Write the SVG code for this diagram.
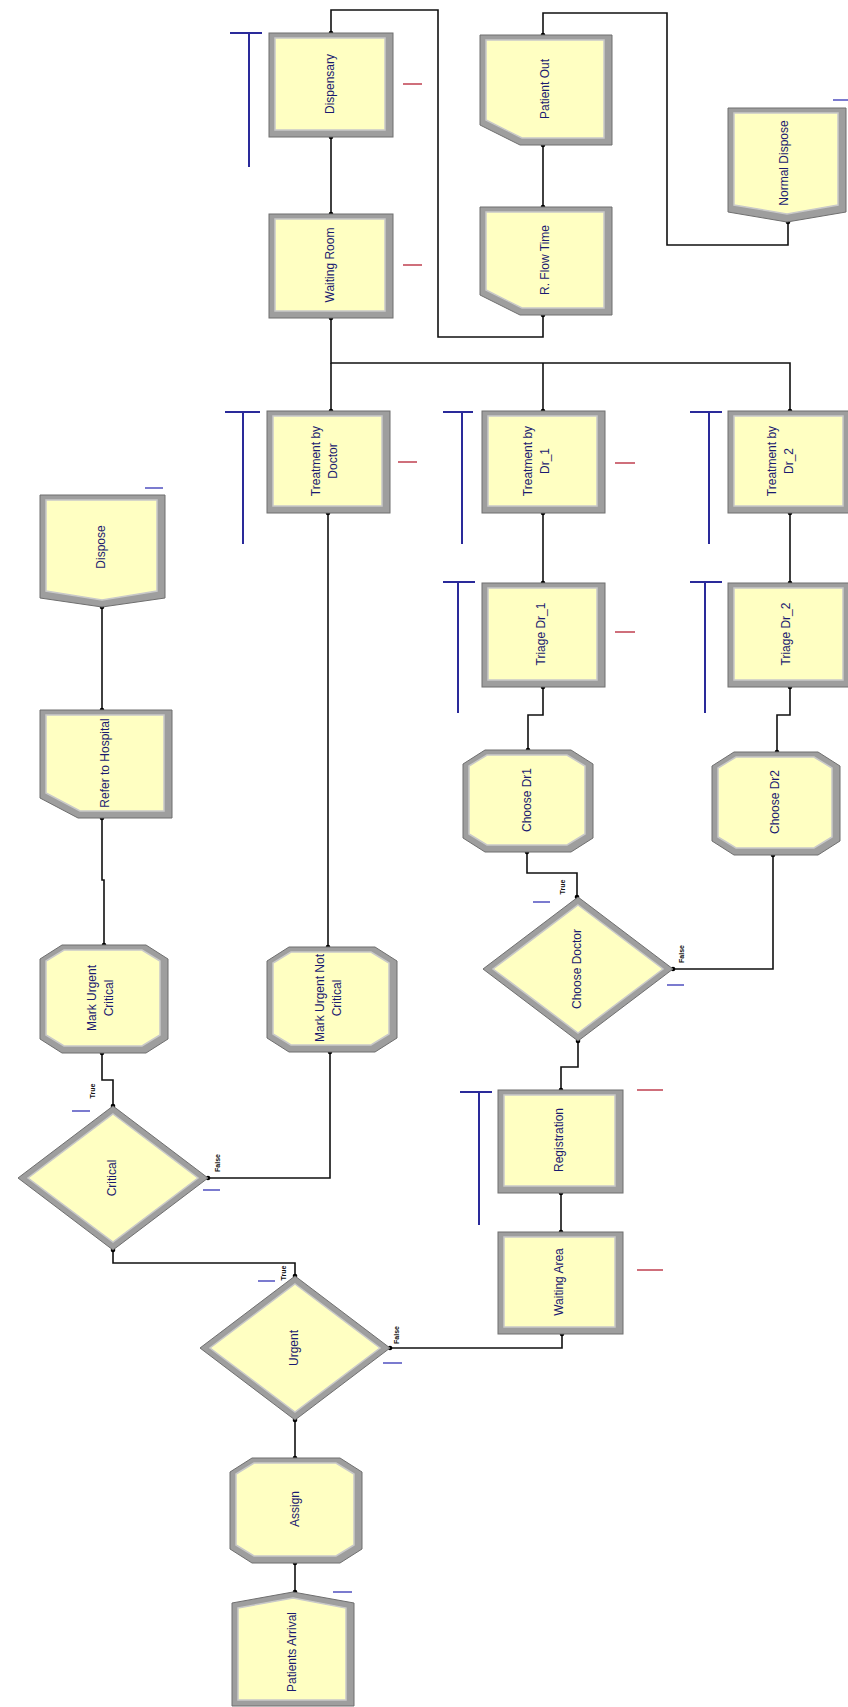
<svg xmlns="http://www.w3.org/2000/svg" width="848" height="1707" viewBox="0 0 848 1707">
<style>
.o{fill:#9e9e9e;stroke:#6f6f6f;stroke-width:1}
.i{fill:#ffffc2;stroke:#c9c9c9;stroke-width:1.5}
.t{font-family:"Liberation Sans",Arial,sans-serif;font-size:12px;fill:#1a1a70;text-anchor:middle;dominant-baseline:central}
.s{font-family:"Liberation Sans",Arial,sans-serif;font-size:7px;font-weight:bold;fill:#111;text-anchor:middle;dominant-baseline:central}
.c{fill:none;stroke:#111;stroke-width:1.6;marker-start:url(#dot);marker-end:url(#dot)}
.e{fill:none;stroke:#111;stroke-width:1.6;marker-end:url(#dot)}
.q{stroke:#2a2a9a;stroke-width:2;fill:none}
.r{stroke:#c04050;stroke-width:1.5}
.b{stroke:#5050c0;stroke-width:1.5}
</style>
<defs>
<marker id="dot" markerUnits="userSpaceOnUse" markerWidth="6" markerHeight="6" refX="3" refY="3"><circle cx="3" cy="3" r="2.3" fill="#000"/></marker>
</defs>
<rect width="848" height="1707" fill="#fff"/>

<g id="connectors">
<path class="c" d="M331,33 V10 H438 V337 H543 V315"/>
<path class="c" d="M543,145 V207"/>
<path class="c" d="M543,35 V13 H667 V245 H788 V222"/>
<path class="c" d="M331,137 V214"/>
<path class="c" d="M331,318 V363 H790 V411"/>
<path class="e" d="M331,363 V411"/>
<path class="e" d="M543,363 V411"/>
<path class="c" d="M543,513 V583"/>
<path class="c" d="M790,513 V583"/>
<path class="c" d="M543,687 V715 H528 V750"/>
<path class="c" d="M790,687 V715 H777 V752"/>
<path class="c" d="M527,852 V873 H577 V897"/>
<path class="c" d="M673,969 H773 V855"/>
<path class="c" d="M578,1041 V1067 H561 V1090"/>
<path class="c" d="M561,1193 V1232"/>
<path class="c" d="M390,1348 H562 V1334"/>
<path class="c" d="M295,1420 V1458"/>
<path class="c" d="M295,1563 V1592"/>
<path class="c" d="M295,1276 V1263 H113 V1250"/>
<path class="c" d="M113,1106 V1080 H102 V1053"/>
<path class="c" d="M208,1178 H330 V1052"/>
<path class="c" d="M328,513 V947"/>
<path class="c" d="M104,945 V880 H102 V818"/>
<path class="c" d="M102,710 V607"/>
</g>

<g id="resources">
<path class="q" d="M230,33 H262 M249,33 V167"/>
<path class="q" d="M225,412 H260 M243,412 V544"/>
<path class="q" d="M443,412 H473 M462,412 V544"/>
<path class="q" d="M690,412 H722 M709,412 V544"/>
<path class="q" d="M443,582 H475 M458,582 V713"/>
<path class="q" d="M690,582 H722 M705,582 V713"/>
<path class="q" d="M460,1092 H492 M479,1092 V1225"/>
<path class="r" d="M403,84 H422 M403,265 H422 M398,462 H417 M615,463 H635 M615,632 H635 M637,1090 H663 M637,1270 H663"/>
<path class="b" d="M833,100 H848 M145,488 H163 M333,1592 H352 M72,1111 H90 M203,1190 H220 M667,985 H684 M533,902 H550 M383,1363 H402 M258,1281 H275"/>
</g>

<g id="decide-labels">
<text class="s" transform="translate(92,1091) rotate(-90)">True</text>
<text class="s" transform="translate(217,1163) rotate(-90)">False</text>
<text class="s" transform="translate(562,887) rotate(-90)">True</text>
<text class="s" transform="translate(681,954) rotate(-90)">False</text>
<text class="s" transform="translate(396,1335) rotate(-90)">False</text>
<text class="s" transform="translate(283,1273) rotate(-90)">True</text>
</g>

<g id="dispensary">
<rect class="o" x="269" y="33" width="124" height="104"/><rect class="i" x="275" y="38" width="110" height="92"/>
<text class="t" transform="translate(330,84) rotate(-90)">Dispensary</text>
</g>
<g id="waiting-room">
<rect class="o" x="269" y="214" width="124" height="104"/><rect class="i" x="275" y="219" width="110" height="92"/>
<text class="t" transform="translate(330,265) rotate(-90)">Waiting Room</text>
</g>
<g id="patient-out">
<polygon class="o" points="480,35 612,35 612,145 520,145 480,125"/><polygon class="i" points="486,40 604,40 604,138 522,138 486,120"/>
<text class="t" transform="translate(545,89) rotate(-90)">Patient Out</text>
</g>
<g id="r-flow-time">
<polygon class="o" points="480,207 612,207 612,315 520,315 480,295"/><polygon class="i" points="486,212 604,212 604,308 522,308 486,290"/>
<text class="t" transform="translate(545,260) rotate(-90)">R. Flow Time</text>
</g>
<g id="normal-dispose">
<polygon class="o" points="728,108 846,108 846,212 787,222 728,212"/><polygon class="i" points="734,113 838,113 838,205 787,214 734,205"/>
<text class="t" transform="translate(784,163) rotate(-90)">Normal Dispose</text>
</g>
<g id="treatment-doctor">
<rect class="o" x="267" y="411" width="123" height="102"/><rect class="i" x="273" y="416" width="109" height="90"/>
<text class="t" transform="translate(316,461) rotate(-90)">Treatment by</text>
<text class="t" transform="translate(333,461) rotate(-90)">Doctor</text>
</g>
<g id="treatment-dr1">
<rect class="o" x="482" y="411" width="123" height="102"/><rect class="i" x="488" y="416" width="109" height="90"/>
<text class="t" transform="translate(528,461) rotate(-90)">Treatment by</text>
<text class="t" transform="translate(545,461) rotate(-90)">Dr_1</text>
</g>
<g id="treatment-dr2">
<rect class="o" x="728" y="411" width="123" height="102"/><rect class="i" x="734" y="416" width="109" height="90"/>
<text class="t" transform="translate(772,461) rotate(-90)">Treatment by</text>
<text class="t" transform="translate(789,461) rotate(-90)">Dr_2</text>
</g>
<g id="triage-dr1">
<rect class="o" x="482" y="583" width="123" height="104"/><rect class="i" x="488" y="588" width="109" height="92"/>
<text class="t" transform="translate(541,634) rotate(-90)">Triage Dr_1</text>
</g>
<g id="triage-dr2">
<rect class="o" x="728" y="583" width="123" height="104"/><rect class="i" x="734" y="588" width="109" height="92"/>
<text class="t" transform="translate(786,634) rotate(-90)">Triage Dr_2</text>
</g>
<g id="choose-dr1">
<polygon class="o" points="485,750 571,750 593,764 593,838 571,852 485,852 463,838 463,764"/>
<polygon class="i" points="487,755 567,755 585,766 585,834 567,845 487,845 469,834 469,766"/>
<text class="t" transform="translate(527,800) rotate(-90)">Choose Dr1</text>
</g>
<g id="choose-dr2">
<polygon class="o" points="734,752 818,752 840,766 840,841 818,855 734,855 712,841 712,766"/>
<polygon class="i" points="736,757 814,757 832,768 832,837 814,848 736,848 718,837 718,768"/>
<text class="t" transform="translate(775,802) rotate(-90)">Choose Dr2</text>
</g>
<g id="choose-doctor">
<polygon class="o" points="578,897 673,969 578,1041 483,969"/><polygon class="i" points="578,905 663,969 578,1033 493,969"/>
<text class="t" transform="translate(577,969) rotate(-90)">Choose Doctor</text>
</g>
<g id="registration">
<rect class="o" x="498" y="1090" width="125" height="103"/><rect class="i" x="504" y="1095" width="111" height="91"/>
<text class="t" transform="translate(559,1140) rotate(-90)">Registration</text>
</g>
<g id="waiting-area">
<rect class="o" x="498" y="1232" width="125" height="102"/><rect class="i" x="504" y="1237" width="111" height="90"/>
<text class="t" transform="translate(559,1282) rotate(-90)">Waiting Area</text>
</g>
<g id="urgent">
<polygon class="o" points="295,1276 390,1348 295,1420 200,1348"/><polygon class="i" points="295,1284 380,1348 295,1412 210,1348"/>
<text class="t" transform="translate(294,1348) rotate(-90)">Urgent</text>
</g>
<g id="assign">
<polygon class="o" points="252,1458 340,1458 362,1472 362,1549 340,1563 252,1563 230,1549 230,1472"/>
<polygon class="i" points="254,1463 336,1463 354,1474 354,1545 336,1556 254,1556 236,1545 236,1474"/>
<text class="t" transform="translate(295,1509) rotate(-90)">Assign</text>
</g>
<g id="patients-arrival">
<polygon class="o" points="232,1603 293,1592 354,1603 354,1706 232,1706"/>
<polygon class="i" points="238,1608 293,1598 346,1608 346,1700 238,1700"/>
<text class="t" transform="translate(292,1652) rotate(-90)">Patients Arrival</text>
</g>
<g id="critical">
<polygon class="o" points="113,1106 208,1178 113,1250 18,1178"/><polygon class="i" points="113,1114 198,1178 113,1242 28,1178"/>
<text class="t" transform="translate(112,1178) rotate(-90)">Critical</text>
</g>
<g id="mark-urgent-critical">
<polygon class="o" points="62,945 146,945 168,959 168,1039 146,1053 62,1053 40,1039 40,959"/>
<polygon class="i" points="64,950 142,950 160,961 160,1035 142,1046 64,1046 46,1035 46,961"/>
<text class="t" transform="translate(92,998) rotate(-90)">Mark Urgent</text>
<text class="t" transform="translate(109,998) rotate(-90)">Critical</text>
</g>
<g id="mark-urgent-not-critical">
<polygon class="o" points="289,947 375,947 397,961 397,1038 375,1052 289,1052 267,1038 267,961"/>
<polygon class="i" points="291,952 371,952 389,963 389,1034 371,1045 291,1045 273,1034 273,963"/>
<text class="t" transform="translate(320,998) rotate(-90)">Mark Urgent Not</text>
<text class="t" transform="translate(337,998) rotate(-90)">Critical</text>
</g>
<g id="refer-to-hospital">
<polygon class="o" points="40,710 172,710 172,818 78,818 40,798"/><polygon class="i" points="46,715 164,715 164,811 80,811 46,793"/>
<text class="t" transform="translate(105,763) rotate(-90)">Refer to Hospital</text>
</g>
<g id="dispose">
<polygon class="o" points="40,495 165,495 165,598 102,607 40,598"/><polygon class="i" points="46,500 157,500 157,591 102,600 46,591"/>
<text class="t" transform="translate(101,547) rotate(-90)">Dispose</text>
</g>
</svg>
